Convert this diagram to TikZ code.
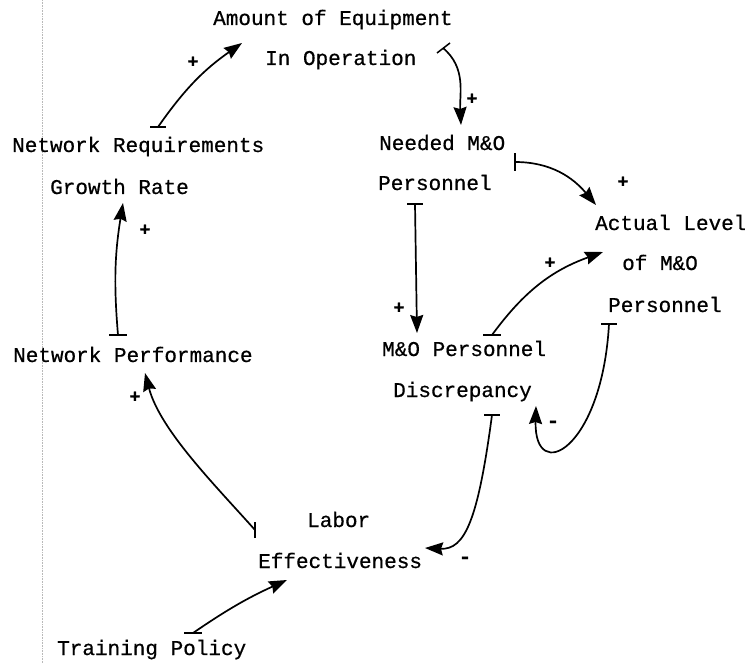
\documentclass[tikz,border=0pt]{standalone}
\usepackage{fontspec}
\setmainfont{Liberation Mono}[FakeBold=0.6]
\usetikzlibrary{arrows.meta}
\begin{document}
\begin{tikzpicture}[x=1pt,y=1pt,
  lbl/.style={anchor=base west, inner sep=0pt, font=\fontsize{21}{24}\selectfont},
  sgn/.style={inner sep=0pt, font=\bfseries\fontsize{18}{20}\selectfont},
  link/.style={line width=1.7pt, -{Stealth[length=18pt,width=13pt,inset=2pt]}},
  tailbar/.style={line width=1.5pt}
]
\useasboundingbox (0,0) rectangle (745,-663);
\draw[gray!55, densely dotted, line width=0.6pt] (42,0) -- (42,-663);

% concepts
\node[lbl] (amt1) at (213,-25) {Amount of Equipment};
\node[lbl] (amt2) at (265,-65) {In Operation};
\node[lbl] (req1) at (12,-152) {Network Requirements};
\node[lbl] (req2) at (50,-194) {Growth Rate};
\node[lbl] (need1) at (379,-150) {Needed M\&O};
\node[lbl] (need2) at (378,-190) {Personnel};
\node[lbl] (act1) at (595,-230) {Actual Level};
\node[lbl] (act2) at (622,-270) {of M\&O};
\node[lbl] (act3) at (608,-312) {Personnel};
\node[lbl] (perf) at (13,-362) {Network Performance};
\node[lbl] (disc1) at (382,-356) {M\&O Personnel};
\node[lbl] (disc2) at (393,-397) {Discrepancy};
\node[lbl] (lab1) at (307,-527) {Labor};
\node[lbl] (lab2) at (258,-568) {Effectiveness};
\node[lbl] (train) at (57,-655) {Training Policy};

% polarity signs
\node[sgn] (s1) at (193,-62) {+};
\node[sgn] (s2) at (472,-99) {+};
\node[sgn] (s3) at (623,-182) {+};
\node[sgn] (s4) at (145,-230) {+};
\node[sgn] (s5) at (550,-263) {+};
\node[sgn] (s6) at (399,-308) {+};
\node[sgn] (s7) at (135,-397) {+};
\node[sgn, font=\bfseries\fontsize{21}{22}\selectfont] (s8) at (553,-424) {-};
\node[sgn, font=\bfseries\fontsize{21}{22}\selectfont] (s9) at (465,-560) {-};

% tail points of the links
\coordinate (t1) at ([shift={(146,25)}]req1.base west);
\coordinate (t2) at ([shift={(178,17)}]amt2.base west);
\coordinate (t3) at ([shift={(136,-12)}]need1.base west);
\coordinate (t4) at ([shift={(37,-14)}]need2.base west);
\coordinate (t5) at ([shift={(110,21)}]disc1.base west);
\coordinate (t6) at ([shift={(1,-12)}]act3.base west);
\coordinate (t7) at ([shift={(99,-18)}]disc2.base west);
\coordinate (t8) at ([shift={(-52,-3)}]lab1.base west);
\coordinate (t9) at ([shift={(136,22)}]train.base west);
\coordinate (t10) at ([shift={(105,27)}]perf.base west);

% links
\draw[link] (t1) to[bend left=10] ([shift={(29,-18)}]amt1.base west);
\draw[link] (t2) to[out=-40,in=93] ([shift={(82,25)}]need1.base west);
\draw[link] (t3) to[out=0,in=130] ([shift={(1,25)}]act1.base west);
\draw[link] (t4) -- ([shift={(35,23)}]disc1.base west);
\draw[link] (t5) to[bend left=17] ([shift={(-19,18)}]act2.base west);
\draw[link] (t6) .. controls +(-7,-126) and +(-2,-79) .. ([shift={(143,-9)}]disc2.base west);
\draw[link] (t7) .. controls +(-14,-105) and +(40,-2) .. ([shift={(167,20)}]lab2.base west);
\draw[link] (t8) .. controls +(-40,45) and +(15,-57) .. ([shift={(132,-11)}]perf.base west);
\draw[link] (t9) to[bend left=5] ([shift={(29,-12)}]lab2.base west);
\draw[link] (t10) to[bend left=7] ([shift={(73,-9)}]req2.base west);

% tail bars
\draw[tailbar] (t1) ++(-8,0) -- ++(16,0);
\draw[tailbar] (t2) ++(-6,-5) -- ++(13,10);
\draw[tailbar] (t3) ++(0,-9) -- ++(0,18);
\draw[tailbar] (t4) ++(-8,0) -- ++(16,0);
\draw[tailbar] (t5) ++(-9,0) -- ++(18,0);
\draw[tailbar] (t6) ++(-8,0) -- ++(16,0);
\draw[tailbar] (t7) ++(-8,0) -- ++(16,0);
\draw[tailbar] (t8) ++(0,-8) -- ++(0,16);
\draw[tailbar] (t9) ++(-9,0) -- ++(18,0);
\draw[tailbar] (t10) ++(-9,0) -- ++(18,0);
\end{tikzpicture}
\end{document}
